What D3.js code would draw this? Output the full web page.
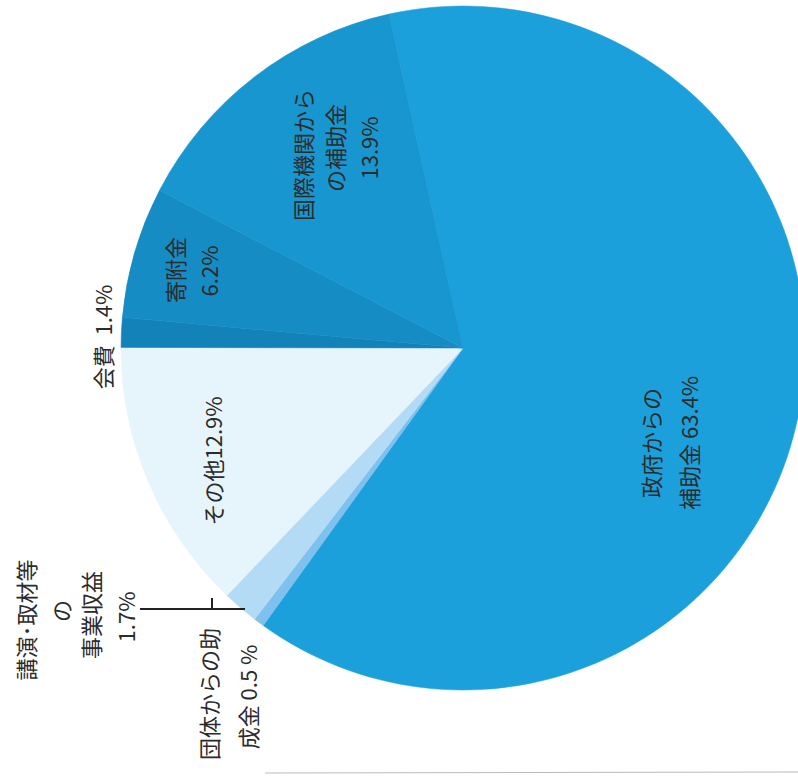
<!DOCTYPE html>
<html>
<head>
<meta charset="utf-8">
<script src="https://cdn.jsdelivr.net/npm/d3@7"></script>
<style>
  body { margin: 0; background: #fff; }
  text { font-family: "Noto Sans CJK JP", "Noto Sans", sans-serif; fill: #2b2b2b; }
</style>
</head>
<body>
<svg id="chart" width="798" height="777"></svg>
<script>
// slices, clockwise from the top
var categories = ["政府からの補助金", "団体からの助成金", "講演・取材等の事業収益", "その他", "会費", "寄附金", "国際機関からの補助金"];
var values = [63.4, 0.5, 1.7, 12.9, 1.4, 6.2, 13.9];
var sliceColors = ["#1ba0dc", "#7ec0ee", "#b3dbf6", "#e6f4fc", "#1282b8", "#168cc4", "#1896cf"];

// label text (one entry per line), same order as categories
var labelLines = [
  ["政府からの", "補助金 63.4%"],
  ["団体からの助", "成金 0.5 %"],
  ["講演･取材等", "の", "事業収益", "1.7%"],
  ["その他12.9%"],
  ["会費\u00a0\u00a01.4%"],
  ["寄附金", "6.2%"],
  ["国際機関から", "の補助金", "13.9%"]
];

// where each label line sits (page coords, text rotated -90)
var labelPos = [
  [[650, 443], [688, 443]],
  [[208, 694], [247, 697]],
  [[25, 620], [60, 611], [90, 615], [125, 617]],
  [[212, 461]],
  [[102, 337]],
  [[174, 270], [208, 271]],
  [[302, 155], [334, 148], [368, 148]]
];

var svg = d3.select("#chart");
var cx = 463, cy = 348, radius = 342;

var pie = d3.pie()
  .sort(null)
  .startAngle(-12.5 * Math.PI / 180)
  .endAngle((360 - 12.5) * Math.PI / 180);

var arc = d3.arc().innerRadius(0).outerRadius(radius);

var pieGroup = svg.append("g")
  .attr("transform", `translate(${cx}, ${cy})`);

pieGroup.selectAll("path")
  .data(pie(values))
  .enter()
  .append("path")
    .attr("d", arc)
    .attr("fill", (d, i) => sliceColors[i])
    .attr("stroke", (d, i) => sliceColors[i])
    .attr("stroke-width", 0.5);

// leader lines for the two small slices
svg.append("line")
  .attr("x1", 140).attr("y1", 609)
  .attr("x2", 245).attr("y2", 609)
  .attr("stroke", "#222").attr("stroke-width", 2);
svg.append("line")
  .attr("x1", 212).attr("y1", 598)
  .attr("x2", 212).attr("y2", 610)
  .attr("stroke", "#222").attr("stroke-width", 2);

// labels
labelLines.forEach(function(lines, i) {
  lines.forEach(function(line, j) {
    var p = labelPos[i][j];
    svg.append("text")
      .attr("transform", `translate(${p[0]}, ${p[1]}) rotate(-90)`)
      .attr("text-anchor", "middle")
      .attr("dominant-baseline", "central")
      .attr("font-size", 22)
      .text(line);
  });
});

// faint page edge at the bottom of the scan
svg.append("line")
  .attr("x1", 265).attr("y1", 773)
  .attr("x2", 798).attr("y2", 772)
  .attr("stroke", "#bbb").attr("stroke-width", 1);
</script>
</body>
</html>
